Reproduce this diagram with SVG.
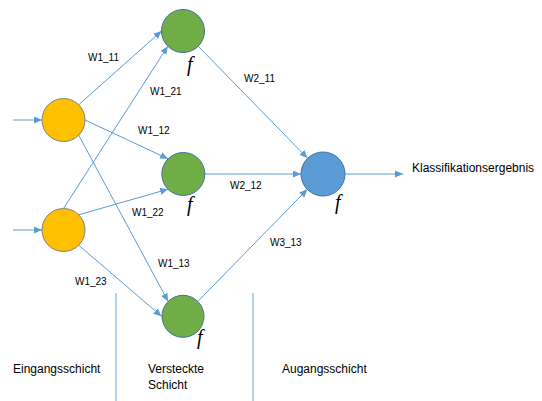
<svg xmlns="http://www.w3.org/2000/svg" width="542" height="401" viewBox="0 0 542 401">
  <defs>
    <marker id="arrow" markerUnits="userSpaceOnUse" markerWidth="9" markerHeight="8" refX="8" refY="3.5" orient="auto">
      <path d="M0,0 L8,3.5 L0,7 z" fill="#5B9BD5"/>
    </marker>
    <style>
      .edge { stroke: #5B9BD5; stroke-width: 1; fill: none; marker-end: url(#arrow); }
      .sep { stroke: #9DC3E6; stroke-width: 1.5; }
      .in { fill: #FFC000; stroke: #7F7F7F; stroke-width: 1; }
      .hid { fill: #70AD47; stroke: #41719C; stroke-width: 1; }
      .out { fill: #5B9BD5; stroke: #41719C; stroke-width: 1; }
      .w { font-family: "Liberation Sans", Arial, sans-serif; font-size: 10px; fill: #000; }
      .lbl { font-family: "Liberation Sans", Arial, sans-serif; font-size: 12px; fill: #000; }
      .f { font-family: "Liberation Serif", "Times New Roman", serif; font-style: italic; font-size: 20px; fill: #000; }
    </style>
  </defs>

  <rect width="542" height="401" fill="#FFFFFF"/>

  <!-- layer separators -->
  <g id="separators">
    <line class="sep" x1="116" y1="293" x2="116" y2="401"/>
    <line class="sep" x1="253" y1="293" x2="253" y2="401"/>
  </g>

  <!-- connectors -->
  <g id="connectors">
    <line class="edge" x1="13" y1="120" x2="42" y2="120"/>
    <line class="edge" x1="13" y1="230" x2="42" y2="230"/>
    <line class="edge" x1="78.7" y1="104.8" x2="161.5" y2="31"/>
    <line class="edge" x1="63.5" y1="208.5" x2="167.8" y2="46.2"/>
    <line class="edge" x1="85" y1="120" x2="168.1" y2="158.8"/>
    <line class="edge" x1="78.7" y1="135.2" x2="168.1" y2="301.4"/>
    <line class="edge" x1="78.7" y1="214.8" x2="168.1" y2="189.2"/>
    <line class="edge" x1="78.7" y1="245.2" x2="161.5" y2="316.3"/>
    <line class="edge" x1="198.2" y1="46.2" x2="307.4" y2="158.1"/>
    <line class="edge" x1="204.8" y1="174" x2="301" y2="174"/>
    <line class="edge" x1="197.9" y1="301.4" x2="307.4" y2="189.3"/>
    <line class="edge" x1="345" y1="174" x2="403" y2="174"/>
  </g>

  <!-- weights -->
  <g id="weights">
    <text class="w" x="88" y="61">W1_11</text>
    <text class="w" x="150" y="95">W1_21</text>
    <text class="w" x="138" y="134">W1_12</text>
    <text class="w" x="132" y="216">W1_22</text>
    <text class="w" x="158" y="267">W1_13</text>
    <text class="w" x="75" y="285">W1_23</text>
    <text class="w" x="244" y="82">W2_11</text>
    <text class="w" x="230" y="189">W2_12</text>
    <text class="w" x="270" y="246">W3_13</text>
  </g>

  <!-- input layer -->
  <g id="input1"><circle class="in" cx="63.5" cy="120" r="21.5"/></g>
  <g id="input2"><circle class="in" cx="63.5" cy="230" r="21.5"/></g>

  <!-- hidden layer -->
  <g id="hidden1">
    <circle class="hid" cx="183" cy="31" r="21.5"/>
    <text class="f" x="187" y="71">f</text>
  </g>
  <g id="hidden2">
    <circle class="hid" cx="183.3" cy="174" r="21.5"/>
    <text class="f" x="187" y="211">f</text>
  </g>
  <g id="hidden3">
    <circle class="hid" cx="183" cy="316.3" r="21"/>
    <text class="f" x="197" y="344">f</text>
  </g>

  <!-- output layer -->
  <g id="output">
    <circle class="out" cx="323" cy="174" r="22"/>
    <text class="f" x="335" y="209">f</text>
  </g>
  <g id="result">
    <text class="lbl" x="412" y="172" font-size="11.5">Klassifikationsergebnis</text>
  </g>

  <!-- layer names -->
  <g id="layer-names">
    <text class="lbl" x="13" y="373">Eingangsschicht</text>
    <text class="lbl" x="148" y="373">Versteckte</text>
    <text class="lbl" x="148" y="389">Schicht</text>
    <text class="lbl" x="282" y="373">Augangsschicht</text>
  </g>
</svg>
